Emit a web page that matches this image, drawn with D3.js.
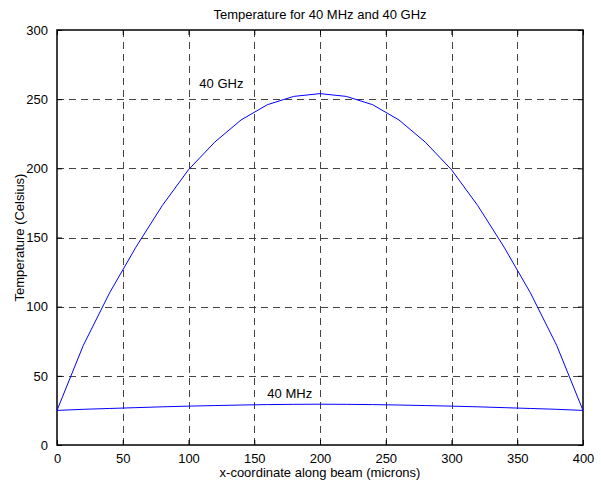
<!DOCTYPE html>
<html>
<head>
<meta charset="utf-8">
<script src="https://cdn.jsdelivr.net/npm/d3@7"></script>
<style>
  body { margin: 0; background: #fff; }
  svg text { font-family: Arial, "Liberation Sans", Helvetica, sans-serif; font-size: 13px; fill: #000; }
</style>
</head>
<body>
<div id="container"></div>
<script>
///data
const positions = [0, 20, 40, 60, 80, 100, 120, 140, 160, 180, 200,
  220, 240, 260, 280, 300, 320, 340, 360, 380, 400];
const ghzTemps = [25, 72, 110, 143, 173, 199, 219, 235, 246, 252, 254,
  252, 246, 235, 219, 199, 173, 143, 110, 72, 25];
const mhzTemps = [25, 25.8, 26.4, 27, 27.6, 28.1, 28.5, 28.9, 29.2, 29.4, 29.5,
  29.4, 29.2, 28.9, 28.5, 28.1, 27.6, 27, 26.4, 25.8, 25];
const xTicks = [0, 50, 100, 150, 200, 250, 300, 350, 400];
const yTicks = [0, 50, 100, 150, 200, 250, 300];
const curveLabels = ["40 GHz", "40 MHz"];

///size
let w = 601,
h = 484,
padL = 57,
padR = 583,
padT = 30,
padB = 445;

let svg = d3.select("#container").
append("svg").
attr("width", w).
attr("height", h);

let xScale = d3.scaleLinear().domain([0, 400]).range([padL, padR]);
let yScale = d3.scaleLinear().domain([0, 300]).range([padB, padT]);

///grid
svg.append("g").
selectAll("line").
data(xTicks.slice(1, -1)).
enter().
append("line").
attr("x1", d => Math.round(xScale(d)) + 0.5).
attr("x2", d => Math.round(xScale(d)) + 0.5).
attr("y1", padT).
attr("y2", padB).
attr("stroke", "#444").
attr("stroke-dasharray", "7,5");

svg.append("g").
selectAll("line").
data(yTicks.slice(1, -1)).
enter().
append("line").
attr("y1", d => Math.round(yScale(d)) + 0.5).
attr("y2", d => Math.round(yScale(d)) + 0.5).
attr("x1", padL).
attr("x2", padR).
attr("stroke", "#444").
attr("stroke-dasharray", "7,5");

///axes (ticks inside, box)
let xAxisB = d3.axisBottom(xScale).tickValues(xTicks).tickSize(-5).tickPadding(9);
let xAxisT = d3.axisTop(xScale).tickValues(xTicks).tickSize(-5).tickFormat("");
let yAxisL = d3.axisLeft(yScale).tickValues(yTicks).tickSize(-5).tickPadding(9);
let yAxisR = d3.axisRight(yScale).tickValues(yTicks).tickSize(-5).tickFormat("");

function styleAxis(g) {
  g.select(".domain").remove();
  g.selectAll("line").attr("stroke", "#000");
  g.attr("font-size", null).attr("font-family", null);
}

svg.append("g").attr("transform", "translate(0," + padB + ")").call(xAxisB).call(styleAxis);
svg.append("g").attr("transform", "translate(0," + padT + ")").call(xAxisT).call(styleAxis);
svg.append("g").attr("transform", "translate(" + padL + ",0)").call(yAxisL).call(styleAxis);
svg.append("g").attr("transform", "translate(" + padR + ",0)").call(yAxisR).call(styleAxis);

svg.append("rect").
attr("x", padL).
attr("y", padT).
attr("width", padR - padL).
attr("height", padB - padT).
attr("fill", "none").
attr("stroke", "#000").
attr("stroke-width", 1.5);

///curves
let line = d3.line().
x(d => xScale(d[0])).
y(d => yScale(d[1]));

[ghzTemps, mhzTemps].forEach(temps => {
  svg.append("path").
  datum(positions.map((p, i) => [p, temps[i]])).
  attr("d", line).
  attr("fill", "none").
  attr("stroke", "#0000ff").
  attr("stroke-width", 1);
});

///curve labels
svg.append("text").
attr("x", xScale(125)).
attr("y", yScale(258)).
attr("text-anchor", "middle").
text(curveLabels[0]);

svg.append("text").
attr("x", xScale(177)).
attr("y", yScale(34)).
attr("text-anchor", "middle").
text(curveLabels[1]);

///titles
svg.append("text").
attr("x", (padL + padR) / 2).
attr("y", 18.5).
attr("text-anchor", "middle").
text("Temperature for 40 MHz and 40 GHz");

svg.append("text").
attr("x", (padL + padR) / 2).
attr("y", 477).
attr("text-anchor", "middle").
text("x-coordinate along beam (microns)");

svg.append("text").
attr("transform", "translate(24," + (padT + padB) / 2 + ") rotate(-90)").
attr("text-anchor", "middle").
text("Temperature (Celsius)");
</script>
</body>
</html>
